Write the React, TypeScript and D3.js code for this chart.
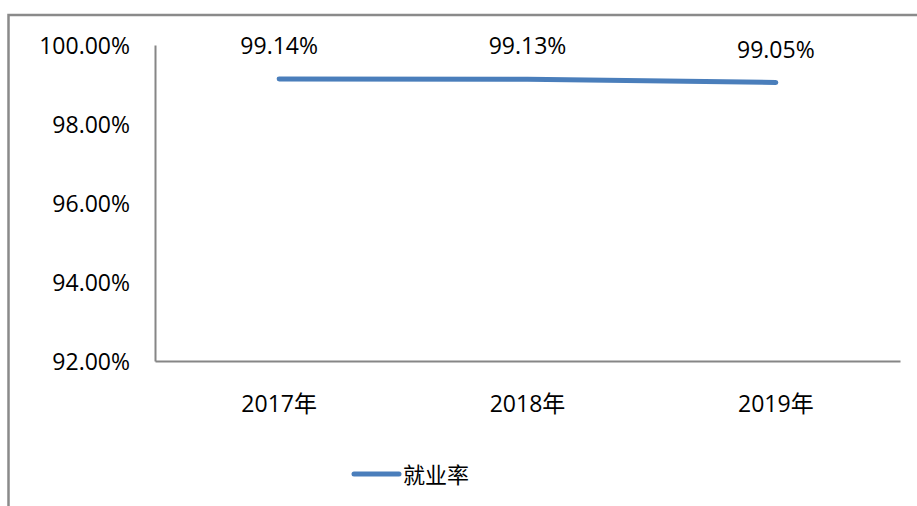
import React, { useEffect, useRef } from "react";
import * as d3 from "d3";

// chart data
const years = ["2017年", "2018年", "2019年"];
const rates = [0.9914, 0.9913, 0.9905];
const yTicks = [0.92, 0.94, 0.96, 0.98, 1.0];
const seriesName = "就业率";

const W = 917;
const H = 506;
const FONT = "'Open Sans', 'Noto Sans CJK SC', sans-serif";

export default function App() {
  const ref = useRef<SVGSVGElement | null>(null);

  useEffect(() => {
    const svg = d3.select(ref.current);
    svg.selectAll("*").remove();

    const margin = { top: 45, left: 155, right: 17, bottom: 145 };
    const w = W - margin.left - margin.right;
    const h = H - margin.top - margin.bottom;

    // outer chart frame (top + left only visible)
    svg
      .append("path")
      .attr("d", `M${W},15H8.5V${H}`)
      .attr("fill", "none")
      .attr("stroke", "#8a8a8a")
      .attr("stroke-width", 2.5);

    const g = svg.append("g").attr("transform", `translate(${margin.left},${margin.top})`);

    const x = d3.scaleBand().domain(years).range([0, w]);
    const y = d3.scaleLinear().domain([0.92, 1.0]).range([h, 0]);

    // y axis
    const yAxis = g
      .append("g")
      .call(
        d3
          .axisLeft(y)
          .tickValues(yTicks)
          .tickFormat(d3.format(".2%"))
          .tickSize(0)
          .tickPadding(25)
      );
    yAxis.select(".domain").attr("stroke", "#868686").attr("stroke-width", 2);
    yAxis
      .selectAll("text")
      .attr("dy", "0.36em")
      .style("font-family", FONT)
      .style("font-size", "23px")
      .attr("fill", "#000");

    // x axis
    const xAxis = g
      .append("g")
      .attr("transform", `translate(0,${h})`)
      .call(d3.axisBottom(x).tickSize(0).tickPadding(35));
    xAxis.select(".domain").attr("stroke", "#868686").attr("stroke-width", 2);
    xAxis
      .selectAll("text")
      .style("font-family", FONT)
      .style("font-size", "23px")
      .attr("fill", "#000");

    // line
    const cx = (d: string) => (x(d) as number) + x.bandwidth() / 2;
    const line = d3
      .line<number>()
      .x((_, i) => cx(years[i]))
      .y((d) => y(d));
    g.append("path")
      .datum(rates)
      .attr("d", line)
      .attr("fill", "none")
      .attr("stroke", "#4a7ebb")
      .attr("stroke-width", 5)
      .attr("stroke-linecap", "round")
      .attr("stroke-linejoin", "round");

    // data labels
    g.selectAll(".lbl")
      .data(rates)
      .join("text")
      .attr("class", "lbl")
      .attr("x", (_, i) => cx(years[i]))
      .attr("y", (d) => y(d) - 25)
      .attr("text-anchor", "middle")
      .style("font-family", FONT)
      .style("font-size", "23px")
      .text((d) => d3.format(".2%")(d));

    // legend
    const lg = svg.append("g").attr("transform", "translate(352,474)");
    lg.append("line")
      .attr("x1", 2)
      .attr("x2", 47)
      .attr("stroke", "#4a7ebb")
      .attr("stroke-width", 5)
      .attr("stroke-linecap", "round");
    lg.append("text")
      .attr("x", 51)
      .attr("y", 9)
      .style("font-family", "'Noto Sans CJK SC', sans-serif")
      .style("font-size", "22px")
      .text(seriesName);
  }, []);

  return (
    <svg
      ref={ref}
      width={W}
      height={H}
      style={{ position: "absolute", left: 0, top: 0, background: "#fff" }}
    />
  );
}
